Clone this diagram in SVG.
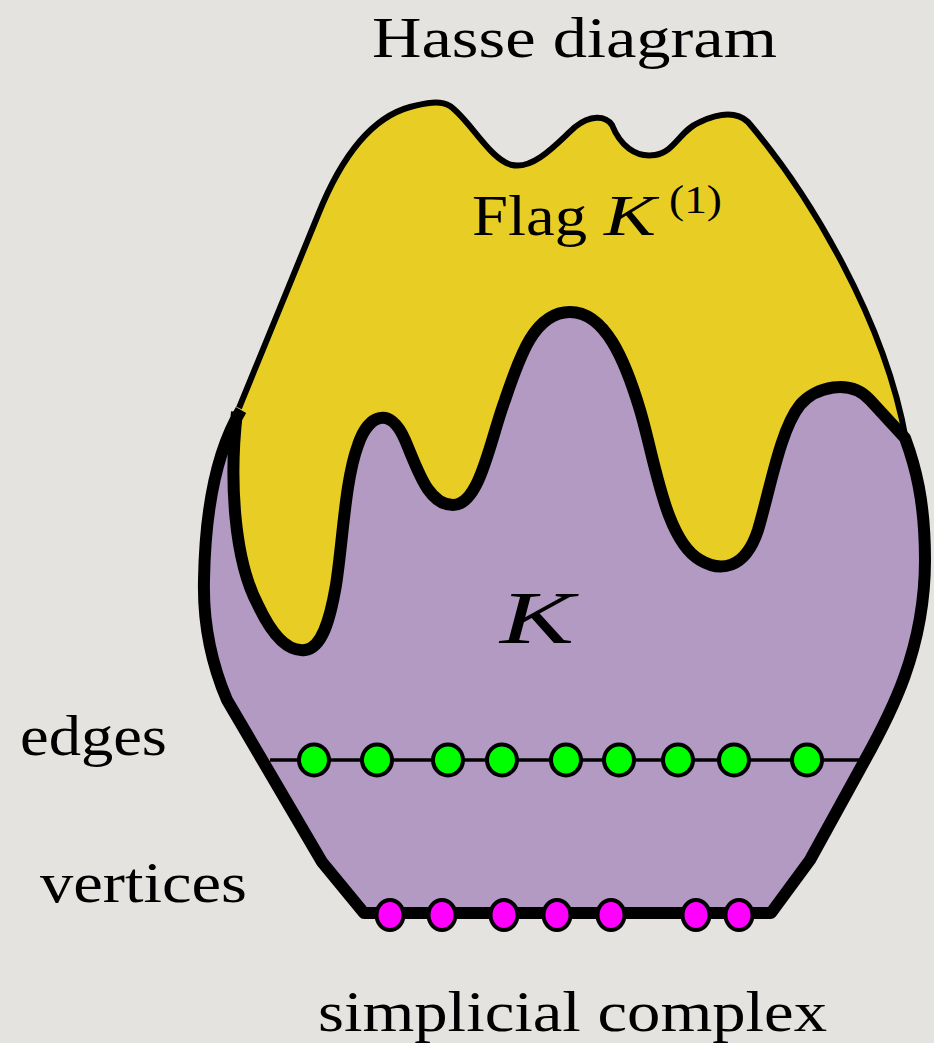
<svg xmlns="http://www.w3.org/2000/svg" width="934" height="1043" viewBox="0 0 934 1043">
<style>
.t{font-family:"Liberation Serif","DejaVu Serif",serif;fill:#000}
.edgeDot{fill:#00ff00;stroke:#000;stroke-width:4}
.vertDot{fill:#ff00ff;stroke:#000;stroke-width:4}
</style>
<defs>
<path id="kOutline" d="M237,412 C229,480 234,560 258,605 C272,635 288,652 305,650 C322,648 330,620 336,585 C343,540 345,480 358,445 C368,415 390,405 405,440 C418,470 428,505 453,505 C480,505 490,440 505,400 C520,355 535,312 570,312 C605,312 625,360 640,410 C655,460 665,540 700,560 C720,572 745,570 758,530 C770,490 780,430 800,405 C815,387 850,378 870,400 L905,438 C915,465 925,500 925,560 C925,650 890,715 865,760 L810,860 L771,913 L364,913 L322,862 L227,700 C210,660 203,620 204,580 C205,520 214,455 241,410"/>
<path id="flagTop" d="M239,408 L318,215 C340,160 370,118 410,107 C425,103 440,100 450,106 C470,120 490,160 512,165 C535,170 560,140 575,127 C590,115 605,115 612,125 C620,145 635,158 655,155 C675,152 680,130 700,122 C715,115 735,110 748,122 C810,195 885,320 906,440"/>
</defs>
<rect width="934" height="1043" fill="#e5e3df"/>
<g id="flag-region">
<path d="M239,408 L318,215 C340,160 370,118 410,107 C425,103 440,100 450,106 C470,120 490,160 512,165 C535,170 560,140 575,127 C590,115 605,115 612,125 C620,145 635,158 655,155 C675,152 680,130 700,122 C715,115 735,110 748,122 C810,195 885,320 906,440 L700,600 L300,690 L240,600 L236,420 Z" fill="#e8ce24"/>
<use href="#flagTop" fill="none" stroke="#000" stroke-width="6" stroke-linejoin="round"/>
</g>
<g id="complex-K">
<use href="#kOutline" fill="#b29ac3" stroke="none"/>
<use href="#kOutline" fill="none" stroke="#000" stroke-width="12" stroke-linejoin="round" stroke-linecap="butt"/>
</g>
<g id="connectors">
<line x1="270" y1="760" x2="865" y2="760" stroke="#000" stroke-width="3.5"/>
</g>
<g id="edges">
<ellipse class="edgeDot" cx="314" cy="760" rx="15" ry="15.5"/>
<ellipse class="edgeDot" cx="377" cy="760" rx="15" ry="15.5"/>
<ellipse class="edgeDot" cx="448" cy="760" rx="15" ry="15.5"/>
<ellipse class="edgeDot" cx="502" cy="760" rx="15" ry="15.5"/>
<ellipse class="edgeDot" cx="566" cy="760" rx="15" ry="15.5"/>
<ellipse class="edgeDot" cx="619" cy="760" rx="15" ry="15.5"/>
<ellipse class="edgeDot" cx="678" cy="760" rx="15" ry="15.5"/>
<ellipse class="edgeDot" cx="734" cy="760" rx="15" ry="15.5"/>
<ellipse class="edgeDot" cx="807" cy="760" rx="15" ry="15.5"/>
</g>
<g id="vertices">
<ellipse class="vertDot" cx="390" cy="915" rx="13.5" ry="15"/>
<ellipse class="vertDot" cx="442" cy="915" rx="13.5" ry="15"/>
<ellipse class="vertDot" cx="504" cy="915" rx="13.5" ry="15"/>
<ellipse class="vertDot" cx="557" cy="915" rx="13.5" ry="15"/>
<ellipse class="vertDot" cx="611" cy="915" rx="13.5" ry="15"/>
<ellipse class="vertDot" cx="696" cy="915" rx="13.5" ry="15"/>
<ellipse class="vertDot" cx="739" cy="915" rx="13.5" ry="15"/>
</g>
<g id="labels">
<text class="t" x="372" y="57" font-size="58" textLength="405" lengthAdjust="spacingAndGlyphs">Hasse diagram</text>
<text class="t" x="472" y="235" font-size="58" textLength="115" lengthAdjust="spacingAndGlyphs">Flag</text>
<text class="t" x="604" y="235" font-size="58" font-style="italic" textLength="52" lengthAdjust="spacingAndGlyphs">K</text>
<text class="t" x="669" y="213" font-size="40" textLength="53" lengthAdjust="spacingAndGlyphs">(1)</text>
<text class="t" x="500" y="643" font-size="74" font-style="italic" textLength="74" lengthAdjust="spacingAndGlyphs">K</text>
<text class="t" x="20" y="755" font-size="58" textLength="147" lengthAdjust="spacingAndGlyphs">edges</text>
<text class="t" x="40" y="902" font-size="58" textLength="207" lengthAdjust="spacingAndGlyphs">vertices</text>
<text class="t" x="318" y="1031" font-size="58" textLength="509" lengthAdjust="spacingAndGlyphs">simplicial complex</text>
</g>
</svg>
